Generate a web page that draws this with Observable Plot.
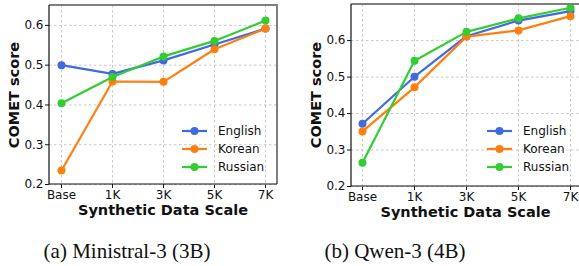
<!DOCTYPE html>
<html><head><meta charset="utf-8">
<script src="https://cdn.jsdelivr.net/npm/d3@7"></script>
<script src="https://cdn.jsdelivr.net/npm/@observablehq/plot@0.6"></script>
<style>
body{margin:0;background:#fff;}
#wrap{position:relative;width:579px;height:266px;overflow:hidden;background:#fff;font-family:"DejaVu Sans",sans-serif;}
.panel{position:absolute;top:0;}
.xlab{position:absolute;font-weight:bold;font-size:14.5px;color:#111;white-space:nowrap;transform:translateX(-50%);}
.ylab{position:absolute;font-weight:bold;font-size:14.5px;color:#111;white-space:nowrap;transform:translate(-50%,-50%) rotate(-90deg);}
.cap{position:absolute;font-family:"Liberation Serif",serif;font-size:21px;line-height:24px;color:#111;white-space:nowrap;transform:translateX(-50%);}
.leg{position:absolute;font-size:12px;color:#111;}
.leg div{height:18px;display:flex;align-items:center;}
.leg svg{margin-right:10px;}
</style></head><body><div id="wrap"></div>
<script>
const scales = ["Base", "1K", "3K", "5K", "7K"];
const languages = ["English", "Korean", "Russian"];
const colors = ["#4169e1", "#ff7f0e", "#32cd32"];
const yTicks = [0.2, 0.3, 0.4, 0.5, 0.6];

const ministralEnglish = [0.500, 0.478, 0.512, 0.552, 0.592];
const ministralKorean  = [0.235, 0.459, 0.458, 0.540, 0.592];
const ministralRussian = [0.404, 0.470, 0.522, 0.561, 0.612];

const qwenEnglish = [0.372, 0.501, 0.612, 0.655, 0.681];
const qwenKorean  = [0.351, 0.472, 0.611, 0.628, 0.667];
const qwenRussian = [0.265, 0.545, 0.624, 0.661, 0.690];

const captions = ["(a) Ministral-3 (3B)", "(b) Qwen-3 (4B)"];

function toRows(series) {
  const rows = [];
  languages.forEach((lang, i) => scales.forEach((s, j) => rows.push({lang, scale: s, value: series[i][j]})));
  return rows;
}

const wrap = document.getElementById("wrap");

function panel({series, left, ml, mt, mb, yMax, caption, capX}) {
  const W = 290, H = 230;
  const data = toRows(series);
  const spines = (index, sc, values, dims) => {
    const g = document.createElementNS("http://www.w3.org/2000/svg", "g");
    const l = dims.marginLeft, r = dims.width - dims.marginRight, t = dims.marginTop, b = dims.height - dims.marginBottom;
    g.innerHTML = `<path d="M${l},${t}H${r}V${b}" fill="none" stroke="#7f7f7f" stroke-width="2"/>` +
      `<path d="M${l},${t}V${b}H${r}" fill="none" stroke="#111" stroke-width="1.2"/>`;
    return g;
  };
  const p = Plot.plot({
    width: W, height: H,
    marginLeft: ml, marginRight: W - ml - (left ? 228 : 229), marginTop: mt, marginBottom: mb,
    style: {fontFamily: "DejaVu Sans", fontSize: "12px", color: "#111", background: "transparent", overflow: "visible"},
    x: {type: "point", domain: scales, padding: 0.2, label: null, tickSize: 4, tickPadding: 2},
    y: {domain: [0.2, yMax], ticks: yTicks, tickFormat: d3.format(".1f"), label: null, tickSize: 4, tickPadding: 2},
    color: {domain: languages, range: colors},
    marks: [
      Plot.gridY(yTicks, {stroke: "#c8c8c8", strokeOpacity: 1, strokeDasharray: "2.5,2.5"}),
      Plot.gridX(scales, {stroke: "#c8c8c8", strokeOpacity: 1, strokeDasharray: "2.5,2.5"}),
      Plot.line(data, {x: "scale", y: "value", z: "lang", stroke: "lang", strokeWidth: 2.2}),
      Plot.dot(data, {x: "scale", y: "value", fill: "lang", r: 4}),
      spines
    ]
  });
  p.classList.add("panel");
  p.style.left = left ? "0px" : "290px";
  wrap.appendChild(p);

  const ox = left ? 0 : 290;
  const plotL = ox + ml, plotR = plotL + (left ? 228 : 229);
  const plotB = H - mb;
  const xl = document.createElement("div");
  xl.className = "xlab"; xl.textContent = "Synthetic Data Scale";
  xl.style.left = ((plotL + plotR) / 2) + "px"; xl.style.top = (plotB + 18) + "px";
  wrap.appendChild(xl);
  const yl = document.createElement("div");
  yl.className = "ylab"; yl.textContent = "COMET score";
  yl.style.left = (ox + (left ? 14 : 26)) + "px"; yl.style.top = ((mt + plotB) / 2) + "px";
  wrap.appendChild(yl);

  const leg = document.createElement("div");
  leg.className = "leg";
  leg.style.left = (left ? 181 : 486) + "px"; leg.style.top = "122px";
  languages.forEach((lang, i) => {
    const row = document.createElement("div");
    row.innerHTML = `<svg width="27" height="10"><line x1="1" x2="26" y1="5" y2="5" stroke="${colors[i]}" stroke-width="2.2"/><circle cx="13.5" cy="5" r="4" fill="${colors[i]}"/></svg><span>${lang}</span>`;
    leg.appendChild(row);
  });
  wrap.appendChild(leg);

  const cap = document.createElement("div");
  cap.className = "cap"; cap.textContent = caption;
  cap.style.left = capX + "px"; cap.style.top = "239px";
  wrap.appendChild(cap);
}

panel({series: [ministralEnglish, ministralKorean, ministralRussian], left: true, ml: 49, mt: 5, mb: 46, yMax: 0.65, caption: captions[0], capX: 127});
panel({series: [qwenEnglish, qwenKorean, qwenRussian], left: false, ml: 61, mt: 4, mb: 44, yMax: 0.699, caption: captions[1], capX: 395});
</script></body></html>
